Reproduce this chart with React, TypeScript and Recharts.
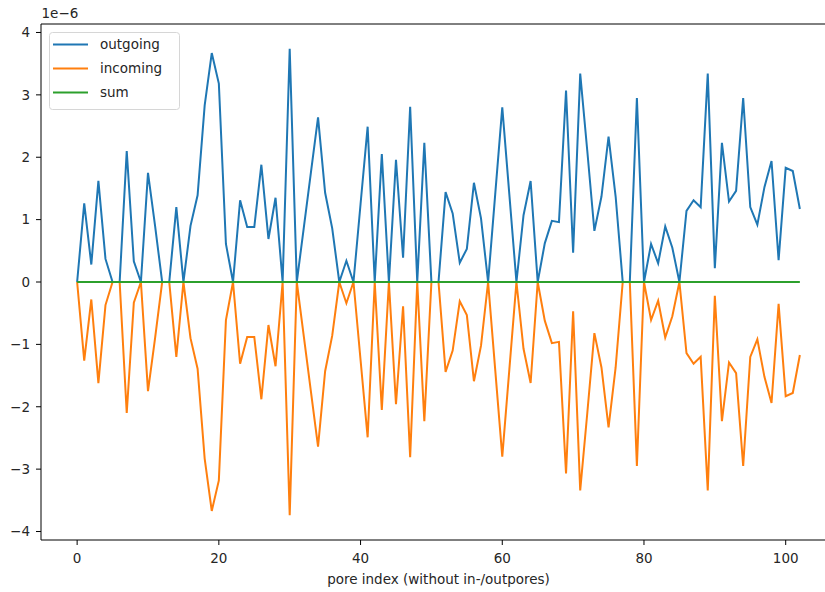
import React from "react";
import { LineChart, Line, XAxis, YAxis, Legend, ReferenceLine } from "recharts";

// values in units of 1e-6
const outgoing = [
  0, 1.26, 0.28, 1.62, 0.37, 0, 0, 2.1, 0.33, 0,
  1.75, 0.9, 0, 0, 1.2, 0, 0.9, 1.39, 2.83, 3.67,
  3.18, 0.61, 0, 1.31, 0.88, 0.88, 1.88, 0.69, 1.35, 0,
  3.74, 0, 0.88, 1.76, 2.64, 1.43, 0.86, 0, 0.34, 0,
  1.25, 2.49, 0, 2.05, 0, 1.96, 0.39, 2.81, 0, 2.23,
  0, 0, 1.44, 1.1, 0.31, 0.53, 1.59, 1.02, 0, 1.4,
  2.8, 1.4, 0, 1.07, 1.62, 0, 0.62, 0.98, 0.96, 3.07,
  0.47, 3.34, 2.1, 0.82, 1.37, 2.33, 1.37, 0, 0, 2.95,
  0, 0.61, 0.3, 0.89, 0.55, 0, 1.14, 1.31, 1.2, 3.34,
  0.22, 2.23, 1.29, 1.46, 2.95, 1.2, 0.92, 1.52, 1.94, 0.35,
  1.83, 1.78, 1.17,
];

const incoming = [
  0, -1.26, -0.28, -1.62, -0.37, 0, 0, -2.1, -0.33, 0,
  -1.75, -0.9, 0, 0, -1.2, 0, -0.9, -1.39, -2.83, -3.67,
  -3.18, -0.61, 0, -1.31, -0.88, -0.88, -1.88, -0.69, -1.35, 0,
  -3.74, 0, -0.88, -1.76, -2.64, -1.43, -0.86, 0, -0.34, 0,
  -1.25, -2.49, 0, -2.05, 0, -1.96, -0.39, -2.81, 0, -2.23,
  0, 0, -1.44, -1.1, -0.31, -0.53, -1.59, -1.02, 0, -1.4,
  -2.8, -1.4, 0, -1.07, -1.62, 0, -0.62, -0.98, -0.96, -3.07,
  -0.47, -3.34, -2.1, -0.82, -1.37, -2.33, -1.37, 0, 0, -2.95,
  0, -0.61, -0.3, -0.89, -0.55, 0, -1.14, -1.31, -1.2, -3.34,
  -0.22, -2.23, -1.29, -1.46, -2.95, -1.2, -0.92, -1.52, -1.94, -0.35,
  -1.83, -1.78, -1.17,
];

const sum = [
  0, 0, 0, 0, 0, 0, 0, 0, 0, 0,
  0, 0, 0, 0, 0, 0, 0, 0, 0, 0,
  0, 0, 0, 0, 0, 0, 0, 0, 0, 0,
  0, 0, 0, 0, 0, 0, 0, 0, 0, 0,
  0, 0, 0, 0, 0, 0, 0, 0, 0, 0,
  0, 0, 0, 0, 0, 0, 0, 0, 0, 0,
  0, 0, 0, 0, 0, 0, 0, 0, 0, 0,
  0, 0, 0, 0, 0, 0, 0, 0, 0, 0,
  0, 0, 0, 0, 0, 0, 0, 0, 0, 0,
  0, 0, 0, 0, 0, 0, 0, 0, 0, 0,
  0, 0, 0,
];

const xTicks = [0, 20, 40, 60, 80, 100];
const yTicks = [-4, -3, -2, -1, 0, 1, 2, 3, 4];
const seriesNames = ["outgoing", "incoming", "sum"];
const seriesColors = ["#1f77b4", "#ff7f0e", "#2ca02c"];
const xLabel = "pore index (without in-/outpores)";
const offsetText = "1e\u22126";

const X_DOMAIN: [number, number] = [-5.1, 107.1];
const Y_DOMAIN: [number, number] = [-4.136, 4.136];

const data = outgoing.map((v, i) => ({
  idx: i,
  outgoing: v,
  incoming: incoming[i],
  sum: sum[i],
}));

const FONT = "'DejaVu Sans', sans-serif";
const FS = 13.5;
const TXT = "#262626";

const fmt = (v: number) => (v < 0 ? "\u2212" + Math.abs(v) : String(v));

const LegendBox = () => (
  <svg width={132} height={79} style={{ display: "block" }}>
    <rect x={0.5} y={0.5} width={130} height={77} rx={3} ry={3} fill="#ffffff" fillOpacity={0.8} stroke="#d6d6d6" strokeWidth={1} />
    {seriesNames.map((n, i) => (
      <g key={n}>
        <line x1={4} x2={39} y1={12.5 + i * 24} y2={12.5 + i * 24} stroke={seriesColors[i]} strokeWidth={2} />
        <text x={51} y={12.5 + i * 24} dy="0.36em" fontFamily={FONT} fontSize={FS} fill={TXT}>
          {n}
        </text>
      </g>
    ))}
  </svg>
);

export default function App() {
  return (
    <div style={{ position: "absolute", left: 0, top: 0, width: 825, height: 592, overflow: "hidden", background: "#fff" }}>
      <LineChart width={845} height={592} data={data} margin={{ top: 24, right: 9, bottom: 0, left: 0 }}>
        <XAxis
          dataKey="idx"
          type="number"
          domain={X_DOMAIN}
          ticks={xTicks}
          allowDataOverflow
          height={52}
          tickSize={5}
          tickMargin={8}
          stroke="#000"
          tick={{ fontFamily: FONT, fontSize: FS, fill: TXT }}
          label={{ value: xLabel, position: "insideBottom", offset: 8, fontFamily: FONT, fontSize: FS, fill: TXT }}
        />
        <YAxis
          type="number"
          domain={Y_DOMAIN}
          ticks={yTicks}
          allowDataOverflow
          width={41}
          tickSize={5}
          tickMargin={6}
          stroke="#000"
          tickFormatter={fmt}
          tick={{ fontFamily: FONT, fontSize: FS, fill: TXT }}
        />
        <ReferenceLine y={Y_DOMAIN[1]} stroke="#000" strokeWidth={1} ifOverflow="visible" />
        <ReferenceLine x={X_DOMAIN[1]} stroke="#000" strokeWidth={1} ifOverflow="visible" />
        <Line dataKey="outgoing" stroke={seriesColors[0]} strokeWidth={2} dot={false} isAnimationActive={false} />
        <Line dataKey="incoming" stroke={seriesColors[1]} strokeWidth={2} dot={false} isAnimationActive={false} />
        <Line dataKey="sum" stroke={seriesColors[2]} strokeWidth={2} dot={false} isAnimationActive={false} />
        <Legend
          layout="vertical"
          align="center"
          verticalAlign="middle"
          content={() => <LegendBox />}
          wrapperStyle={{ position: "absolute", left: 49, top: 32, width: 132, height: 79 }}
        />
      </LineChart>
      <div style={{ position: "absolute", left: 41.5, top: 5, fontFamily: FONT, fontSize: FS, color: TXT, lineHeight: "16px" }}>
        {offsetText}
      </div>
    </div>
  );
}
